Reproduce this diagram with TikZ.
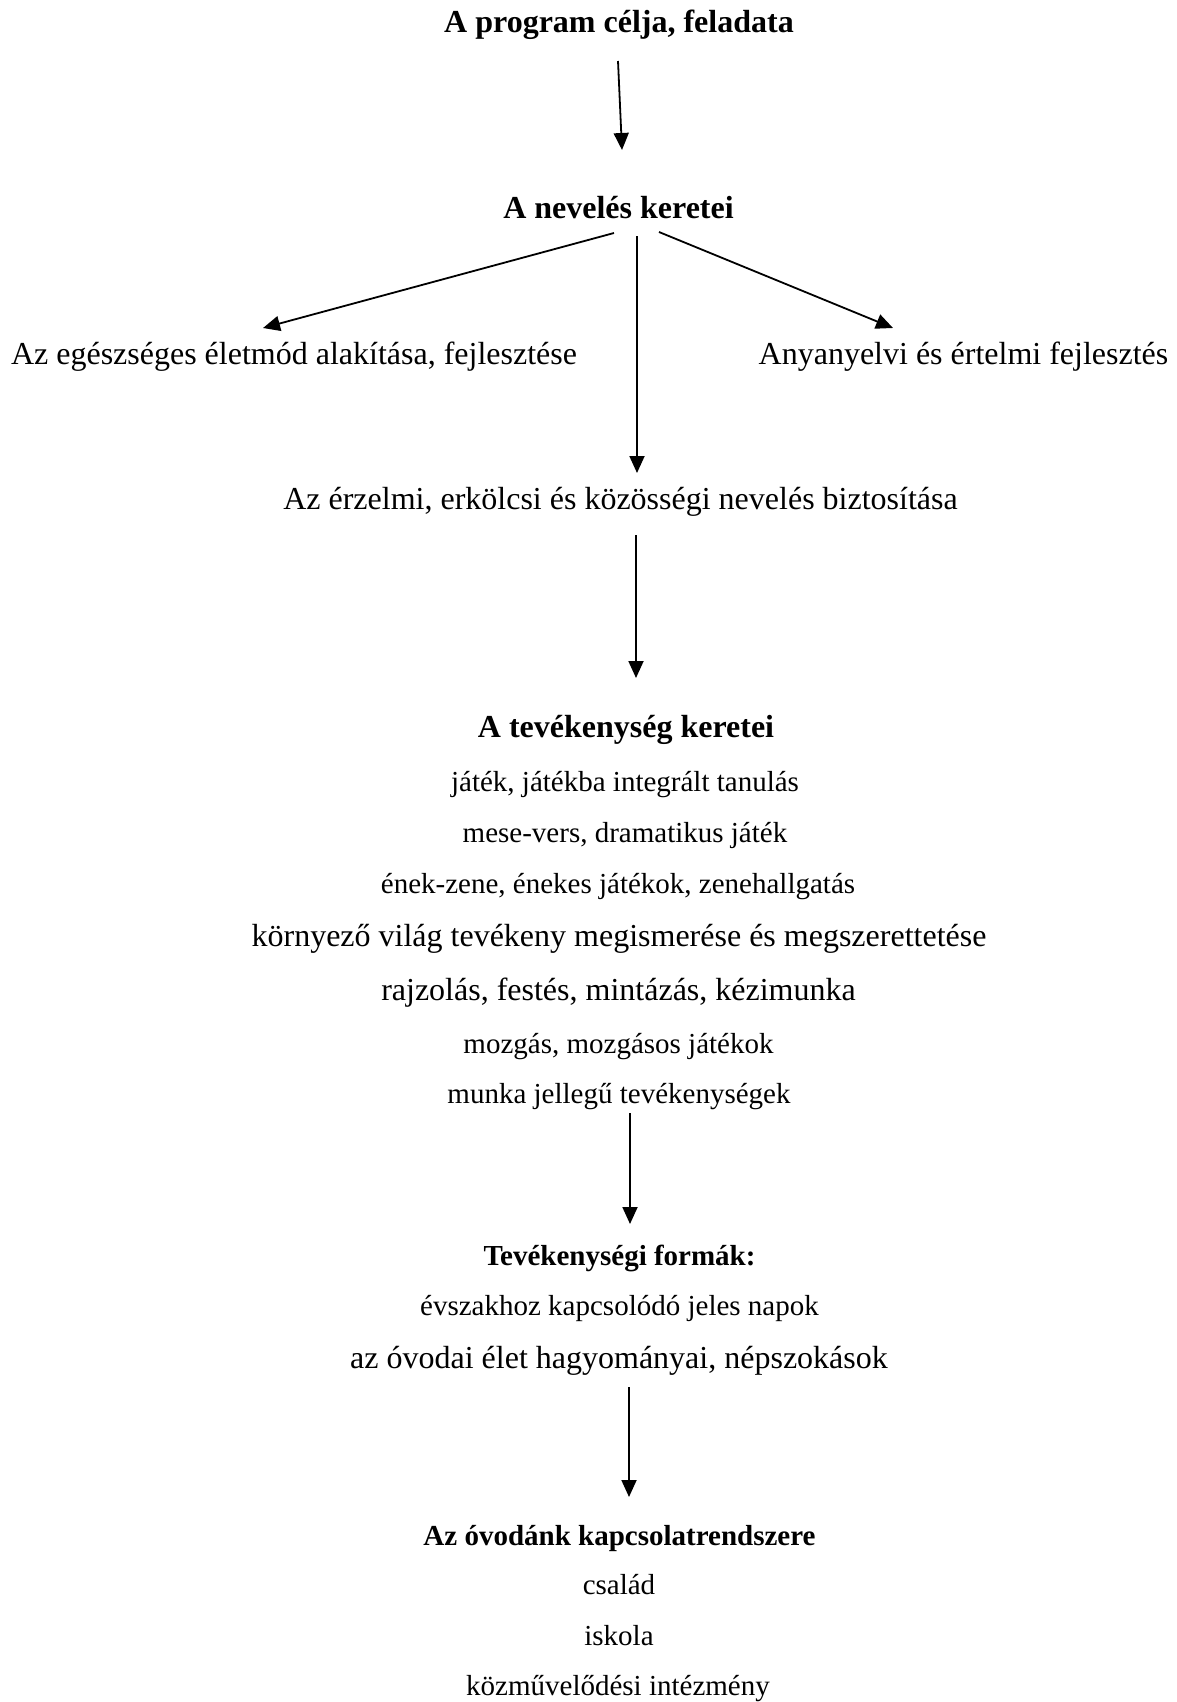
\documentclass[tikz,border=0pt]{standalone}
\usepackage{fontspec}
\setmainfont{Liberation Serif}
\usetikzlibrary{arrows.meta}
\tikzset{
  lbl/.style={anchor=base, inner sep=0pt},
  big/.style={font=\fontsize{32}{38}\selectfont},
  small/.style={font=\fontsize{29}{35}\selectfont},
  bigb/.style={font=\fontsize{32}{38}\selectfont\bfseries},
  smallb/.style={font=\fontsize{29}{35}\selectfont\bfseries},
  arr/.style={-{Triangle[length=17pt,width=15pt]}, line width=1.8pt}
}
\begin{document}
\begin{tikzpicture}[x=1pt,y=-1pt]
\useasboundingbox (0,0) rectangle (1177,1702);
% texts
\node[lbl,bigb] (title) at (619,33) {A program célja, feladata};
\node[lbl,bigb] (nev) at (618.5,218) {A nevelés keretei};
\node[lbl,big] (egesz) at (294,364) {Az egészséges életmód alakítása, fejlesztése};
\node[lbl,big] (anya) at (963.5,364) {Anyanyelvi és értelmi fejlesztés};
\node[lbl,big] (erz) at (620.5,509) {Az érzelmi, erkölcsi és közösségi nevelés biztosítása};
\node[lbl,bigb] (tev) at (626,737) {A tevékenység keretei};
\node[lbl,small] (t1) at (625,791) {játék, játékba integrált tanulás};
\node[lbl,small] (t2) at (625,842) {mese-vers, dramatikus játék};
\node[lbl,small] (t3) at (618,893) {ének-zene, énekes játékok, zenehallgatás};
\node[lbl,big] (t4) at (619,946) {környező világ tevékeny megismerése és megszerettetése};
\node[lbl,big] (t5) at (618.5,1000) {rajzolás, festés, mintázás, kézimunka};
\node[lbl,small] (t6) at (618.5,1053) {mozgás, mozgásos játékok};
\node[lbl,small] (t7) at (619,1103) {munka jellegű tevékenységek};
\node[lbl,smallb] (forma) at (619.5,1265) {Tevékenységi formák:};
\node[lbl,small] (f1) at (619.5,1315) {évszakhoz kapcsolódó jeles napok};
\node[lbl,big] (f2) at (619,1368) {az óvodai élet hagyományai, népszokások};
\node[lbl,smallb] (kap) at (619.5,1545) {Az óvodánk kapcsolatrendszere};
\node[lbl,small] (k1) at (619,1594) {család};
\node[lbl,small] (k2) at (619,1645) {iskola};
\node[lbl,small] (k3) at (618,1695) {közművelődési intézmény};
% arrow end points
\coordinate (a1s) at (618,61);
\coordinate (a1e) at (622,150);
\coordinate (bls) at (614,233);
\coordinate (ble) at (263,328);
\coordinate (bms) at (637,236);
\coordinate (bme) at (637,473);
\coordinate (brs) at (659,232);
\coordinate (bre) at (893,328);
\coordinate (a3s) at (636,535);
\coordinate (a3e) at (636,678);
\coordinate (a4s) at (630,1113);
\coordinate (a4e) at (630,1224);
\coordinate (a5s) at (629,1387);
\coordinate (a5e) at (629,1497);
% connectors
\draw[arr] (a1s) -- (a1e);
\draw[arr] (bls) -- (ble);
\draw[arr] (bms) -- (bme);
\draw[arr] (brs) -- (bre);
\draw[arr] (a3s) -- (a3e);
\draw[arr] (a4s) -- (a4e);
\draw[arr] (a5s) -- (a5e);
\end{tikzpicture}
\end{document}
